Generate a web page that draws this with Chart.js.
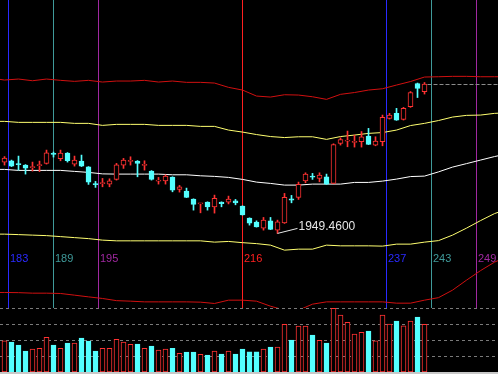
<!DOCTYPE html>
<html>
<head>
<meta charset="utf-8">
<script src="https://cdn.jsdelivr.net/npm/chart.js@4.4.1/dist/chart.umd.min.js"></script>
<style>
  html, body { margin: 0; padding: 0; background: #000; }
  #wrap { position: relative; width: 498px; height: 374px; overflow: hidden; background: #000; }
  #main { position: absolute; left: 0; top: 0; }
  #vol { position: absolute; left: 0; top: 307px; }
  #floor { position: absolute; left: 0; top: 372px; width: 498px; height: 2px; background: #c8c8c8; }
</style>
</head>
<body>
<div id="wrap">
  <canvas id="main" width="498" height="308"></canvas>
  <canvas id="vol" width="498" height="67"></canvas>
  <div id="floor"></div>
</div>
<script>
// ---- daily bars (one per session) ----
var openP = [2113.4, 2116.4, 2110.0, 2106.5, 2100.8, 2105.4, 2110.4, 2132.3, 2121.0, 2134.1,
             2108.8, 2115.7, 2102.6, 2062.8, 2064.0, 2062.8, 2073.6, 2106.5, 2115.0, 2115.7,
             2105.8, 2092.7, 2069.7, 2070.4, 2078.9, 2050.6, 2046.7, 2028.3, 2017.3, 2021.4,
             2010.6, 2021.4, 2021.4, 2024.4, 2012.2, 1984.6, 1975.4, 1961.6, 1978.4, 1957.0,
             1973.8, 2029.0, 2032.2, 2070.4, 2080.5, 2075.9, 2079.6, 2064.4, 2156.4, 2161.7,
             2158.7, 2160.1, 2173.2, 2152.5, 2160.1, 2213.9, 2225.4, 2211.6, 2240.6, 2294.0, 2275.1];
var closeP = [2122.6, 2104.2, 2107.7, 2099.6, 2101.9, 2106.5, 2134.8, 2131.1, 2134.1, 2116.4,
              2118.0, 2104.2, 2067.4, 2061.7, 2065.1, 2070.4, 2107.2, 2118.0, 2116.4, 2110.4,
              2107.0, 2073.6, 2070.9, 2081.2, 2049.0, 2056.6, 2032.2, 2016.1, 2018.0, 2010.6,
              2030.1, 2018.0, 2028.3, 2019.8, 1992.2, 1973.1, 1964.6, 1980.0, 1958.8, 1976.1,
              2032.2, 2026.0, 2062.1, 2085.8, 2078.9, 2083.5, 2062.8, 2153.7, 2165.2, 2162.9,
              2160.1, 2171.6, 2154.1, 2161.7, 2216.2, 2221.5, 2210.0, 2236.9, 2273.3, 2282.5, 2292.8];
var highP = [2126.1, 2118.0, 2127.2, 2107.7, 2113.4, 2115.7, 2141.0, 2136.4, 2141.0, 2135.3,
             2127.2, 2129.5, 2103.1, 2069.0, 2075.9, 2075.0, 2110.4, 2121.9, 2125.6, 2116.9,
             2116.4, 2093.9, 2078.2, 2084.2, 2079.6, 2059.8, 2053.6, 2029.0, 2018.4, 2022.1,
             2037.5, 2022.1, 2035.2, 2027.6, 2012.9, 1985.3, 1978.4, 1986.2, 1986.2, 1980.0,
             2041.4, 2036.8, 2067.4, 2088.8, 2087.4, 2088.8, 2085.8, 2155.5, 2169.3, 2184.7,
             2175.5, 2183.6, 2190.9, 2171.6, 2221.5, 2225.4, 2236.9, 2239.2, 2275.6, 2295.1, 2296.3];
var lowP = [2106.5, 2103.1, 2095.0, 2085.8, 2092.7, 2091.6, 2108.8, 2124.9, 2116.4, 2113.4,
            2104.2, 2103.1, 2062.1, 2055.2, 2056.6, 2056.6, 2072.0, 2098.9, 2106.5, 2079.6,
            2095.0, 2072.0, 2062.8, 2062.8, 2045.1, 2044.4, 2031.8, 2003.0, 1996.8, 2003.0,
            1996.1, 2010.6, 2017.3, 2015.2, 1991.5, 1968.5, 1963.9, 1957.0, 1958.2, 1949.46,
            1972.4, 2019.8, 2027.6, 2065.8, 2073.6, 2068.1, 2062.1, 2064.0, 2152.5, 2148.6,
            2147.9, 2147.9, 2153.7, 2150.9, 2150.9, 2212.3, 2209.3, 2210.0, 2239.2, 2261.8, 2269.8];
var volume = [782, 750, 675, 525, 575, 592, 867, 675, 592, 725,
              725, 850, 775, 525, 592, 592, 817, 750, 692, 700,
              592, 650, 550, 575, 592, 467, 500, 500, 442, 425,
              525, 450, 525, 450, 575, 507, 507, 575, 625, 625,
              1192, 800, 1150, 1150, 925, 792, 725, 1592, 1425, 1242,
              950, 992, 1025, 782, 1425, 1200, 1275, 1157, 1275, 1375, 1192];

// ---- band lines, sampled at these bar positions ----
var bandIdx = [-1, 0, 2, 4, 6, 8, 10, 12, 14, 16, 18, 20, 22, 24, 26, 28, 30, 32, 34,
               36, 38, 40, 42, 44, 46, 48, 50, 52, 54, 56, 58, 60, 62, 64, 66, 68, 70, 71];
var upperRed = [2304.3, 2302.0, 2304.3, 2300.4, 2304.3, 2301.3, 2299.0, 2301.3, 2297.4, 2299.7,
                2299.7, 2301.3, 2297.4, 2299.7, 2296.7, 2296.7, 2295.1, 2285.2, 2279.0, 2265.2,
                2262.9, 2268.2, 2267.5, 2263.6, 2257.6, 2269.1, 2273.3, 2279.0, 2282.0, 2290.5,
                2298.6, 2308.9, 2309.6, 2310.5, 2310.5, 2309.6, 2309.6, 2309.6];
var upperYellow = [2207.0, 2207.0, 2204.7, 2204.7, 2204.7, 2204.7, 2202.4, 2202.4, 2197.8, 2200.1,
                   2200.1, 2200.1, 2197.8, 2197.8, 2197.8, 2195.5, 2195.5, 2187.0, 2182.4, 2176.7,
                   2172.1, 2169.8, 2171.6, 2171.6, 2165.6, 2172.1, 2175.5, 2179.4, 2181.3, 2187.0,
                   2197.4, 2202.4, 2208.9, 2216.9, 2220.8, 2221.5, 2225.4, 2226.1];
var midWhite = [2096.6, 2096.6, 2094.3, 2094.3, 2094.3, 2094.3, 2092.0, 2089.7, 2086.3, 2085.8,
                2085.8, 2085.8, 2085.8, 2084.2, 2084.2, 2081.9, 2080.5, 2078.2, 2073.6, 2067.4,
                2064.4, 2060.5, 2060.5, 2062.8, 2062.8, 2062.8, 2066.7, 2066.7, 2069.7, 2074.3,
                2080.1, 2081.2, 2090.9, 2101.9, 2109.9, 2118.0, 2126.1, 2129.5];
var lowerYellow = [1947.8, 1947.8, 1946.7, 1945.5, 1944.4, 1942.1, 1939.8, 1937.5, 1934.0, 1932.4,
                   1932.4, 1932.4, 1932.4, 1932.4, 1932.4, 1932.4, 1929.4, 1931.0, 1928.2, 1926.0,
                   1922.5, 1911.0, 1913.3, 1913.3, 1922.5, 1920.9, 1920.9, 1920.9, 1920.2, 1924.8,
                   1924.8, 1929.4, 1932.9, 1945.5, 1961.6, 1978.9, 1995.0, 2000.7];
var lowerRed = [1813.7, 1813.7, 1813.3, 1812.1, 1812.1, 1811.4, 1807.5, 1803.6, 1799.9, 1794.9,
                1793.7, 1792.1, 1792.1, 1792.1, 1792.1, 1791.4, 1788.4, 1796.0, 1796.0, 1793.7,
                1782.2, 1773.0, 1773.0, 1786.8, 1792.1, 1792.1, 1792.1, 1792.1, 1792.1, 1789.1,
                1789.1, 1796.0, 1801.8, 1819.0, 1842.0, 1863.9, 1883.4, 1890.3];

// ---- cycle lines (bar position + label) ----
var cycleAt = [0.57, 7, 13.43, 34, 54.57, 61, 67.43];
var cycleLabels = ['183', '189', '195', '216', '237', '243', '249'];

// volume grid levels
var volGrid = [400, 800, 1200, 1600];

// ---------------------------------------------------------------
var RED = '#ff3232', CYAN = '#54ffff';
var cycleColors = ['#2a2aff', '#3f9a9a', '#a028a0', '#ff2020', '#2a2aff', '#3f9a9a', '#a028a0'];
var X_MIN = -4.5 / 7, X_MAX = 70.5;

var idx = openP.map(function (v, i) { return i; });
var up = idx.map(function (i) { return closeP[i] >= openP[i]; });

function band(vals, color) {
    return {
        type: 'line',
        data: bandIdx.map(function (x, k) { return { x: x, y: vals[k] }; }),
        borderColor: color, borderWidth: 1, pointRadius: 0, tension: 0, order: 10
    };
}

var cyclePlugin = {
    id: 'cycles',
    beforeDatasetsDraw: function (chart) {
        var ctx = chart.ctx, xs = chart.scales.x, a = chart.chartArea;
        ctx.save();
        ctx.lineWidth = 1;
        ctx.font = '11px "Liberation Sans", Arial, sans-serif';
        ctx.textBaseline = 'middle';
        cycleAt.forEach(function (v, k) {
            var px = Math.floor(xs.getPixelForValue(v)) + 0.5;
            ctx.strokeStyle = cycleColors[k];
            ctx.beginPath(); ctx.moveTo(px, a.top); ctx.lineTo(px, a.bottom); ctx.stroke();
            ctx.fillStyle = cycleColors[k];
            ctx.fillText(cycleLabels[k], px + 1.5, 259);
        });
        ctx.restore();
    },
    afterDatasetsDraw: function (chart) {
        var ctx = chart.ctx, xs = chart.scales.x, ys = chart.scales.y, a = chart.chartArea;
        ctx.save();
        // last close, dashed
        var last = closeP.length - 1;
        var ly = Math.floor(ys.getPixelForValue(closeP[last])) + 0.5;
        ctx.strokeStyle = '#8c8c8c';
        ctx.setLineDash([4, 2]);
        ctx.beginPath(); ctx.moveTo(xs.getPixelForValue(last) + 3, ly); ctx.lineTo(a.right, ly); ctx.stroke();
        ctx.setLineDash([]);
        // lowest low marker
        var lo = Math.min.apply(null, lowP), li = lowP.indexOf(lo);
        var px = xs.getPixelForValue(li), py = ys.getPixelForValue(lo);
        ctx.strokeStyle = '#e6e6e6';
        ctx.beginPath(); ctx.moveTo(px, py); ctx.lineTo(px + 20, py - 5); ctx.stroke();
        ctx.fillStyle = '#e6e6e6';
        ctx.font = '12px "Liberation Sans", Arial, sans-serif';
        ctx.textBaseline = 'middle';
        ctx.fillText(lo.toFixed(4), px + 21, py - 6.5);
        ctx.restore();
    }
};

var xAxis = { type: 'linear', min: X_MIN, max: X_MAX, offset: false, display: false };

new Chart(document.getElementById('main'), {
    type: 'bar',
    data: {
        datasets: [
            {
                data: idx.map(function (i) { return { x: i, y: [openP[i], closeP[i]] }; }),
                backgroundColor: idx.map(function (i) { return up[i] ? '#000' : CYAN; }),
                borderColor: idx.map(function (i) { return up[i] ? RED : CYAN; }),
                borderWidth: 1, borderSkipped: false, barThickness: 5, minBarLength: 1,
                grouped: false, order: 1
            },
            {
                data: idx.map(function (i) { return { x: i, y: [lowP[i], highP[i]] }; }),
                backgroundColor: idx.map(function (i) { return up[i] ? RED : CYAN; }),
                borderWidth: 0, barThickness: 1, grouped: false, order: 2
            },
            band(upperRed, '#d01010'),
            band(upperYellow, '#ffff70'),
            band(midWhite, '#ffffff'),
            band(lowerYellow, '#ffff70'),
            band(lowerRed, '#d01010')
        ]
    },
    options: {
        responsive: false, animation: false, events: [],
        layout: { padding: 0 },
        plugins: { legend: { display: false }, tooltip: { enabled: false } },
        scales: {
            x: xAxis,
            y: { type: 'linear', min: 1778, max: 2486, display: false }
        }
    },
    plugins: [cyclePlugin]
});

var volGridPlugin = {
    id: 'volGrid',
    beforeDatasetsDraw: function (chart) {
        var ctx = chart.ctx, ys = chart.scales.y, a = chart.chartArea;
        ctx.save();
        ctx.strokeStyle = '#7a7a7a';
        ctx.lineWidth = 1;
        ctx.setLineDash([3, 3]);
        volGrid.forEach(function (v) {
            var py = Math.floor(ys.getPixelForValue(v)) + 0.5;
            ctx.beginPath(); ctx.moveTo(a.left, py); ctx.lineTo(a.right, py); ctx.stroke();
        });
        ctx.restore();
    }
};

new Chart(document.getElementById('vol'), {
    type: 'bar',
    data: {
        datasets: [{
            data: idx.map(function (i) { return { x: i, y: volume[i] }; }),
            backgroundColor: idx.map(function (i) { return up[i] ? '#000' : CYAN; }),
            borderColor: idx.map(function (i) { return up[i] ? RED : CYAN; }),
            borderWidth: 1, borderSkipped: false, barThickness: 5, grouped: false
        }]
    },
    options: {
        responsive: false, animation: false, events: [],
        layout: { padding: { top: 1, bottom: 2, left: 0, right: 0 } },
        plugins: { legend: { display: false }, tooltip: { enabled: false } },
        scales: {
            x: xAxis,
            y: { type: 'linear', min: 0, max: 1600, display: false }
        }
    },
    plugins: [volGridPlugin]
});
</script>
</body>
</html>
